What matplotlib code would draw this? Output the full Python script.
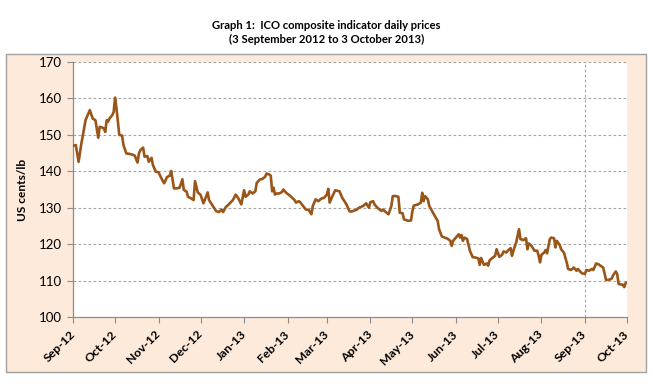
import matplotlib
matplotlib.use("Agg")
import matplotlib.pyplot as plt
import matplotlib.dates as mdates
from matplotlib.patches import Rectangle
import pandas as pd

plt.rcParams['font.family'] = ['Lato', 'DejaVu Sans']

# days since 3 Sep 2012 and the composite indicator price (US cents/lb)
day = [0, 2, 4, 6, 9, 10, 12, 14, 16, 18, 19, 21, 22, 23, 24, 25, 26, 28, 29, 30,
       31, 33, 35, 36, 38, 40, 43, 44, 46, 47, 48, 50, 51, 53, 54, 56, 57, 59, 61, 63,
       65, 67, 69, 70, 72, 74, 76, 78, 79, 81, 82, 84, 86, 87, 89, 91, 93, 96, 97, 99,
       102, 104, 106, 107, 109, 111, 114, 116, 118, 120, 122, 123, 125, 126, 128, 130, 131, 133, 135, 137,
       138, 140, 141, 142, 143, 144, 145, 147, 149, 150, 152, 155, 158, 159, 161, 162, 164, 166, 168, 170,
       171, 173, 175, 177, 179, 181, 182, 183, 185, 187, 190, 192, 195, 197, 198, 202, 204, 207, 209, 211,
       212, 214, 215, 217, 220, 221, 223, 225, 227, 228, 230, 232, 233, 235, 236, 239, 241, 242, 243, 246,
       248, 249, 250, 251, 253, 254, 256, 258, 260, 261, 263, 265, 267, 269, 270, 271, 273, 275, 276, 277,
       278, 279, 281, 283, 285, 286, 289, 290, 291, 293, 295, 296, 297, 298, 300, 301, 302, 304, 306, 307,
       309, 310, 312, 313, 314, 316, 317, 318, 319, 321, 322, 323, 324, 325, 327, 329, 331, 332, 333, 334,
       336, 337, 338, 340, 341, 343, 344, 345, 347, 348, 350, 352, 353, 355, 356, 357, 359, 360, 362, 363,
       365, 366, 368, 370, 371, 373, 375, 376, 378, 379, 380, 382, 384, 385, 387, 388, 389, 391, 392, 393,
       394, 395]
price = [147.0, 147.2, 142.6, 147.7, 154.1, 155.0, 156.8, 154.5, 154.0, 149.2, 152.2, 152.0, 151.7, 150.8, 154.0, 153.6, 154.5, 155.4, 156.3, 160.2,
         157.3, 150.0, 149.8, 147.2, 144.9, 144.8, 144.5, 144.3, 142.4, 144.9, 145.8, 146.5, 144.0, 144.2, 142.6, 143.7, 141.7, 139.9, 139.7, 138.1,
         136.7, 138.4, 138.8, 140.1, 135.3, 135.3, 135.5, 137.8, 134.9, 134.4, 133.0, 132.6, 132.1, 137.3, 134.2, 133.5, 131.2, 134.2, 132.1, 130.9,
         129.1, 128.8, 129.5, 128.8, 130.2, 130.9, 132.1, 133.6, 132.5, 130.9, 134.8, 133.0, 133.6, 134.5, 133.9, 134.5, 136.8, 137.7, 137.9, 138.5,
         139.4, 139.1, 138.8, 134.5, 135.5, 133.6, 133.9, 133.9, 134.3, 135.0, 134.1, 133.2, 132.1, 131.4, 131.8, 131.5, 130.5, 129.5, 129.4, 128.2,
         130.5, 132.3, 131.8, 132.5, 132.7, 133.6, 135.2, 131.4, 133.2, 134.8, 134.5, 132.7, 130.9, 129.1, 128.9, 129.4, 130.0, 130.5, 131.2, 130.0,
         131.5, 131.8, 130.9, 130.0, 129.1, 129.5, 128.8, 128.2, 130.5, 133.2, 133.2, 133.0, 128.6, 128.5, 126.8, 126.4, 126.5, 129.1, 130.6, 130.9,
         131.4, 134.1, 131.8, 133.2, 132.3, 130.5, 129.1, 127.7, 126.4, 124.1, 122.1, 121.8, 121.5, 120.9, 119.5, 120.9, 121.8, 122.7, 121.8, 122.5,
         120.9, 121.8, 121.4, 118.2, 116.4, 116.4, 116.1, 114.3, 116.2, 114.3, 114.7, 114.1, 115.5, 115.9, 116.5, 116.8, 118.6, 116.5, 117.1, 118.0,
         117.7, 118.2, 118.9, 116.8, 118.2, 120.5, 122.3, 124.1, 121.4, 121.1, 121.4, 121.6, 118.6, 120.2, 119.5, 118.2, 118.2, 116.8, 115.0, 117.1,
         117.7, 118.4, 117.5, 121.4, 121.8, 121.6, 119.1, 120.9, 119.8, 118.6, 117.7, 115.0, 113.2, 112.9, 113.2, 113.6, 112.7, 113.2, 112.3, 112.0,
         111.8, 112.9, 112.7, 113.2, 112.9, 114.7, 114.4, 114.1, 113.6, 112.0, 110.2, 110.2, 110.5, 111.4, 112.5, 111.8, 109.1, 108.9, 108.9, 108.2,
         109.3, 109.5]

start = pd.Timestamp('2012-09-03')
end = pd.Timestamp('2013-10-03')
dates = start + pd.to_timedelta(day, unit='D')
month_ticks = pd.date_range(start, end, freq=pd.DateOffset(months=1))
y_ticks = [100, 110, 120, 130, 140, 150, 160, 170]

line_col = '#9a5518'
grid_col = '#a6a6a6'
axis_col = '#8c8c8c'

fig = plt.figure(figsize=(6.53, 3.84), dpi=100)
fig.patch.set_facecolor('white')

# peach chart area with grey border
box = Rectangle((6 / 653, 1 - 372 / 384), 640 / 653, 318 / 384, transform=fig.transFigure,
                facecolor='#fdeada', edgecolor='#a0a0a0', linewidth=1.0, zorder=-5)
fig.patches.append(box)

ax = fig.add_axes([73 / 653, 1 - 317 / 384, 554 / 653, 255 / 384])
ax.set_zorder(2)
ax.set_facecolor('white')

ax.plot(dates, price, color=line_col, lw=1.9, solid_joinstyle='round', zorder=3)

ax.set_xlim(start, end)
ax.set_ylim(100, 170)
ax.set_yticks(y_ticks)
ax.set_xticks(month_ticks)
ax.xaxis.set_major_formatter(mdates.DateFormatter('%b-%y'))

for y in y_ticks[1:]:
    ax.axhline(y, color=grid_col, lw=0.8, ls=(0, (2.5, 2)), zorder=1)
ax.axvline(pd.Timestamp('2013-09-03'), color=grid_col, lw=0.8, ls=(0, (2.5, 2)), zorder=1)

for s in ['top', 'right']:
    ax.spines[s].set_visible(False)
for s in ['left', 'bottom']:
    ax.spines[s].set_color(axis_col)
    ax.spines[s].set_linewidth(0.9)

ax.tick_params(axis='y', length=4, color=axis_col, labelsize=9.5, pad=4, labelcolor='#000000')
ax.tick_params(axis='x', length=4, color=axis_col, labelsize=8.8, pad=7, labelcolor='#000000')
plt.setp(ax.get_xticklabels(), rotation=45, ha='right', va='center', rotation_mode='anchor',
         fontweight='bold')

ax.set_ylabel('US cents/lb', fontsize=8.6, fontweight='bold', labelpad=8)

fig.text(0.5, 1 - 25.5 / 384, 'Graph 1:  ICO composite indicator daily prices', ha='center', va='center',
         fontsize=8.1, fontweight='bold')
fig.text(0.5, 1 - 39 / 384, '(3 September 2012 to 3 October 2013)', ha='center', va='center',
         fontsize=8.1, fontweight='bold')

fig.savefig('out.png', dpi=100)
